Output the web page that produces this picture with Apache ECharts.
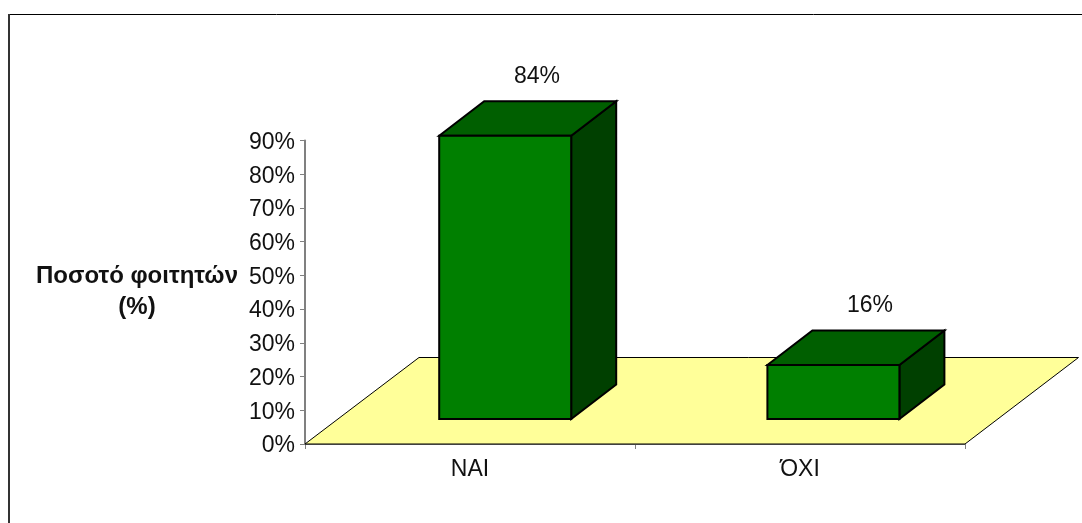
<!DOCTYPE html>
<html><head><meta charset="utf-8">
<style>html,body{margin:0;padding:0;background:#fff}#c{width:1082px;height:523px}</style>
<script src="https://cdn.jsdelivr.net/npm/echarts@6/dist/echarts.min.js"></script>
</head><body><div id="c"></div>
<script>
const categories = ['ΝΑΙ', 'ΌΧΙ'];
const values = [84, 16];
const yTicks = [0, 90];
const axisName = 'Ποσοτό φοιτητών\n(%)';

const FONT = '"Liberation Sans", Arial, sans-serif';
const chart = echarts.init(document.getElementById('c'), null, {renderer: 'canvas'});

const floorItem = (params, api) => {
  const cs = params.coordSys;
  const L = cs.x, R = cs.x + cs.width, B = cs.y + cs.height;
  return {type: 'polygon', shape: {points: [[L, B], [R, B], [R + 113.5, B - 86.5], [L + 114, B - 86.5]]},
    style: {fill: '#ffff99', stroke: '#000', lineWidth: 1}, silent: true};
};

const barShift = [35.2, 33.4];
const labelShift = [67, 70];
const barItem = (params, api) => {
  const i = api.value(0), v = api.value(1);
  const base = api.coord([i, 0]), top = api.coord([i, v]);
  const dy = -25, hw = 66, dpx = 45, dpy = -34.5;
  const x0 = base[0] + barShift[i] - hw, x1 = base[0] + barShift[i] + hw;
  const y0 = base[1] + dy, y1 = top[1] + dy;
  const st = (f) => ({fill: f, stroke: '#000', lineWidth: 2, lineJoin: 'miter'});
  return {type: 'group', children: [
    {type: 'polygon', shape: {points: [[x1, y1], [x1 + dpx, y1 + dpy], [x1 + dpx, y0 + dpy], [x1, y0]]}, style: st('#004000')},
    {type: 'polygon', shape: {points: [[x0, y1], [x0 + dpx, y1 + dpy], [x1 + dpx, y1 + dpy], [x1, y1]]}, style: st('#005f00')},
    {type: 'rect', shape: {x: x0, y: y1, width: x1 - x0, height: y0 - y1}, style: st('#007f00')},
    {type: 'text', style: {x: base[0] + labelShift[i], y: y1 - 59, text: v + '%', fill: '#111', font: '23px ' + FONT, align: 'center', verticalAlign: 'middle'}}
  ]};
};

chart.setOption({
  animation: false,
  backgroundColor: '#fff',
  graphic: [
    {type: 'line', z: -10, shape: {x1: 8, y1: 14.5, x2: 1082, y2: 14.5}, style: {stroke: '#000', lineWidth: 1}},
    {type: 'line', z: -10, shape: {x1: 9, y1: 14, x2: 9, y2: 523}, style: {stroke: '#333', lineWidth: 2}}
  ],
  grid: {left: 305, right: 117, top: 140.5, bottom: 79, containLabel: false},
  xAxis: {
    type: 'category', data: categories, boundaryGap: true,
    axisLine: {show: true, lineStyle: {color: '#808080', width: 1}},
    axisTick: {show: true, length: 5, alignWithLabel: false, lineStyle: {color: '#808080'}},
    axisLabel: {color: '#111', fontFamily: FONT, fontSize: 23, margin: 14},
    splitLine: {show: false}
  },
  yAxis: {
    type: 'value', min: yTicks[0], max: yTicks[1], interval: 10,
    name: axisName, nameLocation: 'middle', nameRotate: 0, nameGap: 168,
    nameTextStyle: {fontFamily: FONT, fontWeight: 'bold', fontSize: 24, color: '#111', lineHeight: 31, align: 'center', verticalAlign: 'middle'},
    axisLine: {show: true, lineStyle: {color: '#808080', width: 2}},
    axisTick: {show: true, length: 5, lineStyle: {color: '#808080'}},
    axisLabel: {
      formatter: (v) => '{t|' + v + '%}', margin: 10,
      rich: {t: {color: '#111', fontFamily: FONT, fontSize: 23, lineHeight: 27, padding: [4, 0, 0, 0]}}
    },
    splitLine: {show: false}
  },
  series: [
    {type: 'custom', name: 'floor', coordinateSystem: 'cartesian2d', renderItem: floorItem, data: [[0, 0]], z: 1, silent: true},
    {type: 'custom', name: 'Ποσοστό', coordinateSystem: 'cartesian2d', renderItem: barItem,
      encode: {x: 0, y: 1}, data: values.map((v, i) => [i, v]), z: 2, clip: false}
  ]
});
</script></body></html>
